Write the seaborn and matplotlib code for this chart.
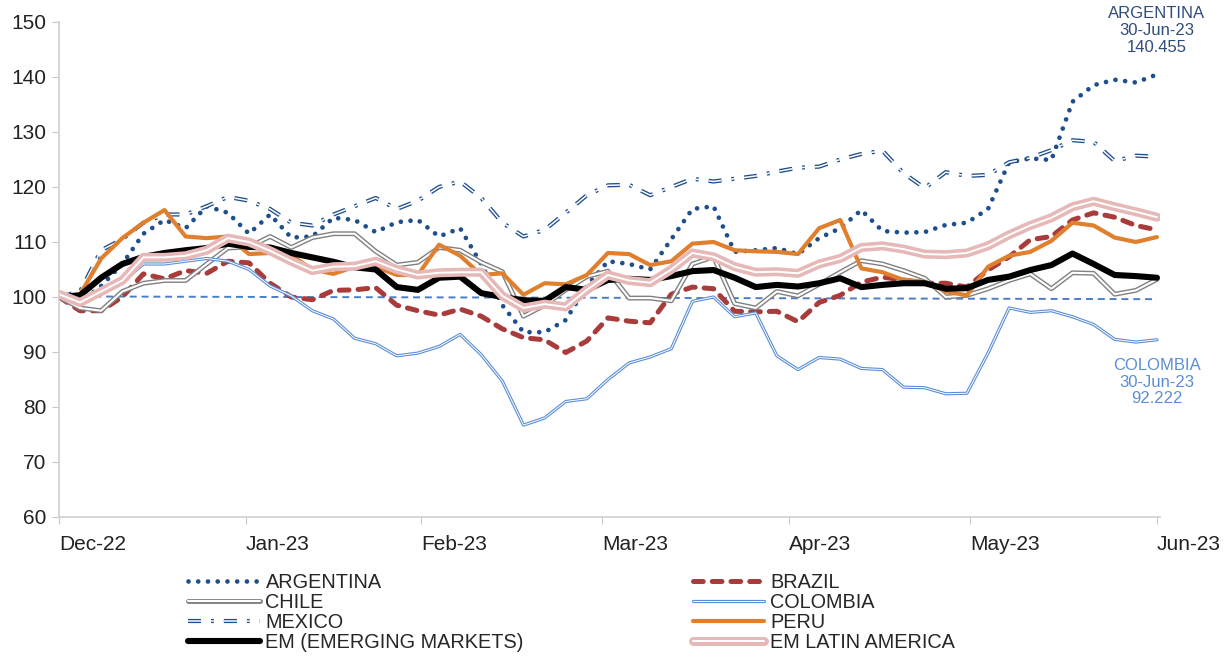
import pandas as pd
import matplotlib.pyplot as plt
import matplotlib.patheffects as pe
import seaborn as sns

# twice-weekly readings, 30-Dec-22 .. 30-Jun-23 (index, 30-Dec-22 = 100)
dates = pd.date_range('2022-12-30', '2023-06-30', periods=53)

argentina = [100, 99, 102, 106, 111.5, 114, 112.5, 116.5, 115.3, 111.5, 115, 110.8, 111,
             114.4, 114, 111.8, 113.6, 114, 111, 112.5, 106, 98.5, 93.6, 93.6, 95.8, 102,
             106.5, 106, 105, 110.5, 116, 116.5, 108.2, 108.5, 108.9, 107.8, 110.7, 112.5,
             115.8, 112, 111.7, 111.8, 113.1, 113.5, 116, 124.5, 125.2, 124.9, 135.5, 138.5,
             139.5, 139, 140.455]
brazil = [100, 97.5, 97.5, 100, 104.2, 103.3, 104.8, 104.3, 106.5, 106.2, 102.5, 100, 99.5,
          101.2, 101.3, 101.7, 98.5, 97.5, 96.7, 97.8, 96.5, 94.2, 92.6, 92.2, 89.9, 92,
          96.2, 95.6, 95.3, 100.5, 101.8, 101.5, 97.4, 97.3, 97.4, 95.5, 99, 100.3, 102.7,
          103.6, 103.1, 102.5, 102.5, 101.8, 104.9, 107.3, 110.4, 111, 114, 115.3, 114.5,
          113, 112.2]
chile = [100, 98, 97.5, 101, 102.5, 103, 103, 106, 108.9, 109.1, 111, 109, 110.8, 111.5,
         111.5, 108.3, 105.8, 106.3, 109, 108.5, 106.3, 104.6, 96.5, 98.5, 101.3, 103.7,
         104.7, 99.8, 99.8, 99.3, 106, 107.3, 98.8, 98, 101, 100.2, 102.3, 104.5, 106.6,
         106, 104.8, 103.4, 100, 100.3, 101.5, 103, 104.2, 101.5, 104.4, 104.3, 100.5,
         101.2, 103.2]
colombia = [100, 99.5, 100.5, 102.7, 106, 106, 106.5, 107, 106.5, 105, 102, 100.2, 97.5,
            96, 92.5, 91.5, 89.3, 89.8, 91, 93.2, 89.5, 84.7, 76.7, 78, 81, 81.5, 85, 88,
            89.1, 90.6, 99.2, 100, 96.4, 97.1, 89.3, 86.8, 89, 88.7, 87, 86.8, 83.6, 83.5,
            82.4, 82.5, 89.8, 98, 97.2, 97.5, 96.4, 95, 92.3, 91.8, 92.222]
mexico = [100, 101, 108.5, 110.5, 113.5, 115, 115, 116.5, 118.2, 117.5, 116, 113.5, 113,
          115, 116.5, 118, 116, 117.5, 120, 121, 118, 113.5, 111, 112.2, 115.3, 118.5,
          120.3, 120.4, 118.5, 120, 121.5, 121, 121.5, 122, 122.8, 123.5, 123.7, 125, 126,
          126.6, 122.5, 119.8, 122.7, 122, 122.2, 124.5, 125.3, 126.7, 128.5, 128.2, 124.7,
          125.7, 125.5]
peru = [100, 100.5, 107, 110.7, 113.5, 115.8, 111, 110.7, 111, 107.8, 108, 107.6, 105,
        104.2, 105.5, 105.5, 104, 104, 109.5, 107.5, 104, 104.3, 100.4, 102.5, 102.3, 104,
        108, 107.8, 105.8, 106.5, 109.7, 110, 108.5, 108.3, 108.2, 107.8, 112.5, 114, 105.2,
        104.5, 103.1, 102.8, 101, 100.3, 105.5, 107.5, 108.2, 110.2, 113.5, 113, 110.8,
        110, 110.9]
em = [100, 100.3, 103.5, 106, 107.3, 108, 108.5, 108.9, 109.7, 109.1, 109, 108, 107.2,
      106.4, 105.4, 105, 101.8, 101.3, 103.5, 103.7, 100.7, 100, 99.4, 99.3, 101.8, 101.3,
      103.1, 103.3, 103.1, 103.8, 104.7, 104.9, 103.5, 101.8, 102.2, 101.9, 102.5, 103.4,
      101.8, 102.2, 102.5, 102.5, 101.5, 101.6, 103.1, 103.7, 104.9, 105.8, 107.9, 106,
      104, 103.8, 103.5]
em_latam = [100.5, 99, 101, 103, 107.2, 107.2, 107.5, 108.5, 110.7, 110, 108.4, 106.5,
            104.8, 105.5, 105.6, 106.5, 105, 104, 104.4, 104.5, 104.5, 100.2, 98, 98.7,
            98.2, 101.3, 104, 103, 102.6, 105, 108, 107.3, 105.5, 104.5, 104.6, 104.3, 106,
            107, 109, 109.3, 108.7, 107.8, 107.7, 108, 109.3, 111.3, 113, 114.4, 116.4,
            117.4, 116.4, 115.5, 114.5]

ref_dates = ['2022-12-30', '2023-06-30']
ref_values = [100.1, 99.6]

tick_dates = ['2022-12-30', '2023-01-30', '2023-02-28', '2023-03-30', '2023-04-30',
              '2023-05-30', '2023-06-30']
tick_labels = ['Dec-22', 'Jan-23', 'Feb-23', 'Mar-23', 'Apr-23', 'May-23', 'Jun-23']

df = pd.DataFrame({'date': dates, 'ARGENTINA': argentina, 'BRAZIL': brazil, 'CHILE': chile,
                   'COLOMBIA': colombia, 'MEXICO': mexico, 'PERU': peru,
                   'EM (EMERGING MARKETS)': em, 'EM LATIN AMERICA': em_latam})
ref = pd.DataFrame({'date': pd.to_datetime(ref_dates), 'value': ref_values})

sns.set_style('white')
plt.rcParams['font.family'] = ['Liberation Sans', 'DejaVu Sans']
plt.rcParams['lines.scale_dashes'] = False

fig = plt.figure(figsize=(12.28, 6.58), dpi=100)
ax = fig.add_axes([0.048, 0.2143, 0.8966, 0.7523])

# name: (colour, width, linestyle, inner white width, capstyle)
styles = {
    'ARGENTINA': ('#1F4E8C', 3.4, (0, (0.01, 7.0)), None, 'round'),
    'BRAZIL': ('#A93B3B', 3.6, (0, (7, 6.5)), None, 'round'),
    'CHILE': ('#808080', 3.5, '-', 1.5, 'butt'),
    'COLOMBIA': ('#5B8ED6', 2.3, '-', 0.7, 'butt'),
    'MEXICO': ('#1F4E8C', 3.0, (0, (9.4, 7.2, 2, 7.2)), 1.1, 'butt'),
    'PERU': ('#E0802F', 3.0, '-', None, 'butt'),
    'EM (EMERGING MARKETS)': ('#000000', 4.4, '-', None, 'butt'),
    'EM LATIN AMERICA': ('#E6B9B8', 6.5, '-', 1.4, 'butt'),
}

sns.lineplot(data=ref, x='date', y='value', ax=ax, color='#4A7EC7', lw=1.4,
             linestyle=(0, (5, 3.5)), zorder=1.5)

for name, (color, lw, ls, inner, cap) in styles.items():
    if inner:
        sns.lineplot(data=df, x='date', y=name, ax=ax, color='white', lw=inner,
                     linestyle=ls, label=name, errorbar=None,
                     path_effects=[pe.Stroke(linewidth=lw, foreground=color), pe.Normal()])
    else:
        sns.lineplot(data=df, x='date', y=name, ax=ax, color=color, lw=lw,
                     linestyle=ls, label=name, errorbar=None,
                     dash_capstyle=cap, solid_capstyle='round')

ax.set_ylim(60, 150)
ax.set_yticks(range(60, 151, 10))
ax.set_xlim(pd.Timestamp('2022-12-30'), pd.Timestamp('2023-06-30 12:00'))
ax.set_xticks(pd.to_datetime(tick_dates))
ax.set_xticklabels(tick_labels, ha='left')
ax.set_xlabel('')
ax.set_ylabel('')
ax.tick_params(axis='both', labelsize=15, colors='#222222', bottom=True, left=True,
               length=5, width=0.8)
ax.tick_params(axis='x', pad=8, color='#C8C8C8')
ax.tick_params(axis='y', pad=4, color='#C8C8C8')
for s in ['top', 'right']:
    ax.spines[s].set_visible(False)
for s in ['left', 'bottom']:
    ax.spines[s].set_color('#D0D0D0')
    ax.spines[s].set_linewidth(1.2)

# end-of-period labels
last = df['date'].iloc[-1]
ax.annotate('ARGENTINA\n30-Jun-23\n140.455', xy=(last, argentina[-1]), xytext=(0, 14),
            textcoords='offset points', ha='center', va='bottom', fontsize=12,
            color='#2F4C7A', linespacing=1.15, annotation_clip=False)
ax.annotate('COLOMBIA\n30-Jun-23\n92.222', xy=(last, colombia[-1]), xytext=(0, -13),
            textcoords='offset points', ha='center', va='top', fontsize=12,
            color='#5B8ED6', linespacing=1.15, annotation_clip=False)

handles, labels = ax.get_legend_handles_labels()
lookup = dict(zip(labels, handles))
order = ['ARGENTINA', 'CHILE', 'MEXICO', 'EM (EMERGING MARKETS)',
         'BRAZIL', 'COLOMBIA', 'PERU', 'EM LATIN AMERICA']
ax.legend([lookup[k] for k in order], order, ncol=2, loc='upper left',
          bbox_to_anchor=(188 / 1228, 1 - 573 / 658), bbox_transform=fig.transFigure,
          frameon=False, fontsize=14.3, handlelength=3.6, handletextpad=0.3,
          labelspacing=0.05, columnspacing=8.5, borderpad=0, borderaxespad=0)

fig.savefig('out.png', dpi=100)
